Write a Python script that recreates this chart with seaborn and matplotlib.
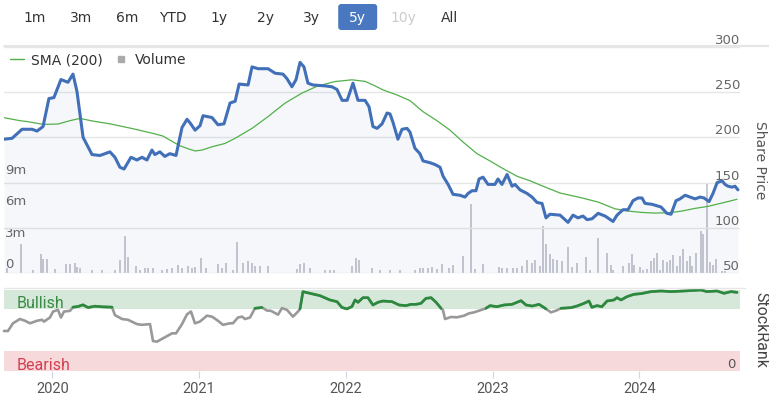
import numpy as np
import matplotlib
matplotlib.use("Agg")
import matplotlib.pyplot as plt
from matplotlib.lines import Line2D
from matplotlib.patches import FancyBboxPatch
import seaborn as sns

# range selector buttons
range_buttons = ["1m", "3m", "6m", "YTD", "1y", "2y", "3y", "5y", "10y", "All"]
active_button = "5y"
disabled_button = "10y"

# share price (decimal year, price)
price_t = [2019.671, 2019.726, 2019.794, 2019.862, 2019.896, 2019.937, 2019.977, 2020.011, 2020.059, 2020.107,
           2020.141, 2020.168, 2020.210, 2020.271, 2020.325, 2020.393, 2020.427, 2020.461, 2020.489, 2020.536,
           2020.577, 2020.611, 2020.645, 2020.679, 2020.699, 2020.733, 2020.767, 2020.801, 2020.843, 2020.884,
           2020.918, 2020.939, 2020.973, 2021.007, 2021.027, 2021.088, 2021.129, 2021.170, 2021.211, 2021.246,
           2021.273, 2021.334, 2021.361, 2021.402, 2021.470, 2021.518, 2021.572, 2021.599, 2021.633, 2021.661,
           2021.688, 2021.715, 2021.742, 2021.776, 2021.858, 2021.906, 2021.940, 2021.975, 2022.009, 2022.049,
           2022.083, 2022.131, 2022.158, 2022.185, 2022.213, 2022.247, 2022.281, 2022.301, 2022.321, 2022.355,
           2022.383, 2022.417, 2022.437, 2022.471, 2022.505, 2022.526, 2022.574, 2022.608, 2022.642, 2022.663,
           2022.697, 2022.731, 2022.778, 2022.812, 2022.833, 2022.860, 2022.887, 2022.908, 2022.935, 2022.969,
           2023.016, 2023.037, 2023.064, 2023.099, 2023.133, 2023.153, 2023.187, 2023.235, 2023.269, 2023.303,
           2023.337, 2023.364, 2023.391, 2023.460, 2023.514, 2023.548, 2023.582, 2023.616, 2023.644, 2023.678,
           2023.719, 2023.767, 2023.821, 2023.848, 2023.889, 2023.923, 2023.957, 2023.991, 2024.018, 2024.039,
           2024.086, 2024.148, 2024.188, 2024.216, 2024.250, 2024.277, 2024.312, 2024.346, 2024.380, 2024.414,
           2024.441, 2024.475, 2024.502, 2024.530, 2024.564, 2024.584, 2024.604, 2024.632, 2024.652, 2024.672]
price = [198, 199, 209, 209, 207, 212, 243, 244, 264, 261,
         270, 251, 200, 181, 180, 184, 178, 167, 165, 178,
         175, 178, 175, 186, 181, 184, 179, 182, 180, 211,
         220, 216, 208, 213, 224, 222, 214, 215, 238, 240,
         259, 258, 278, 276, 276, 271, 270, 265, 256, 264,
         283, 278, 260, 258, 257, 256, 253, 241, 241, 260,
         241, 241, 234, 212, 210, 215, 227, 226, 217, 198,
         209, 210, 206, 188, 182, 174, 172, 170, 167, 157,
         148, 137, 136, 134, 138, 141, 141, 154, 156, 148,
         148, 154, 148, 159, 146, 148, 142, 138, 134, 128,
         127, 111, 115, 114, 106, 114, 111, 113, 109, 110,
         116, 113, 107, 114, 120, 120, 130, 133, 133, 127,
         126, 123, 116, 115, 130, 132, 136, 134, 132, 134,
         133, 129, 138, 150, 152, 148, 146, 145, 146, 142]

# 200 day moving average
sma_t = [2019.664, 2019.780, 2019.834, 2019.937, 2020.039, 2020.120, 2020.189, 2020.278, 2020.393, 2020.550,
         2020.686, 2020.754, 2020.823, 2020.870, 2020.939, 2020.973, 2021.020, 2021.088, 2021.176, 2021.246,
         2021.361, 2021.470, 2021.585, 2021.701, 2021.810, 2021.927, 2022.042, 2022.131, 2022.199, 2022.253,
         2022.348, 2022.437, 2022.526, 2022.621, 2022.710, 2022.798, 2022.894, 2022.982, 2023.071, 2023.167,
         2023.255, 2023.344, 2023.459, 2023.610, 2023.719, 2023.834, 2023.923, 2024.018, 2024.106, 2024.208,
         2024.290, 2024.380, 2024.467, 2024.563, 2024.665]
sma = [222, 218.5, 217.4, 214.4, 214.8, 218.5, 221, 218, 215, 209.6,
       204.4, 201.5, 195, 190.7, 186.7, 185, 186, 189.6, 193.3, 199,
       210, 223, 237.8, 249, 257, 261.8, 263.7, 262, 257, 252.6,
       247, 240.7, 228.5, 218.5, 208, 195, 182, 174, 165.5, 157,
       152, 146, 138.5, 133, 128.5, 121, 118.5, 117, 116.3, 116.7,
       118.5, 121.5, 123.7, 127.4, 131.5]

# volume in millions
vol_t = [2019.691, 2019.787, 2019.868, 2019.923, 2019.937, 2019.964, 2020.018, 2020.093, 2020.121, 2020.155,
         2020.168, 2020.189, 2020.271, 2020.339, 2020.427, 2020.461, 2020.495, 2020.516, 2020.570, 2020.598,
         2020.632, 2020.652, 2020.686, 2020.748, 2020.782, 2020.816, 2020.857, 2020.884, 2020.925, 2020.952,
         2020.972, 2021.013, 2021.047, 2021.129, 2021.156, 2021.184, 2021.231, 2021.258, 2021.299, 2021.334,
         2021.361, 2021.381, 2021.415, 2021.470, 2021.668, 2021.688, 2021.715, 2021.756, 2021.858, 2021.892,
         2021.920, 2022.042, 2022.069, 2022.090, 2022.178, 2022.233, 2022.301, 2022.369, 2022.471, 2022.505,
         2022.526, 2022.560, 2022.587, 2022.621, 2022.655, 2022.703, 2022.730, 2022.798, 2022.853, 2022.880,
         2022.935, 2023.044, 2023.064, 2023.099, 2023.140, 2023.167, 2023.201, 2023.235, 2023.269, 2023.289,
         2023.323, 2023.344, 2023.364, 2023.391, 2023.412, 2023.439, 2023.473, 2023.514, 2023.541, 2023.575,
         2023.637, 2023.664, 2023.719, 2023.780, 2023.807, 2023.821, 2023.889, 2023.930, 2023.950, 2023.964,
         2024.005, 2024.025, 2024.052, 2024.080, 2024.100, 2024.120, 2024.141, 2024.161, 2024.188, 2024.209,
         2024.229, 2024.256, 2024.277, 2024.297, 2024.324, 2024.345, 2024.359, 2024.386, 2024.420, 2024.433,
         2024.460, 2024.481, 2024.502, 2024.522, 2024.563, 2024.584]
vol_m = [0.48, 2.8, 0.3, 1.85, 1.37, 1.37, 0.38, 0.9, 0.9, 0.95,
         0.57, 0.48, 0.32, 0.32, 0.32, 1.2, 3.5, 1.5, 0.7, 0.3,
         0.48, 0.48, 0.48, 0.3, 0.38, 0.48, 0.8, 0.48, 0.63, 0.48,
         0.57, 1.43, 0.48, 0.9, 0.48, 1.0, 0.3, 3.0, 0.95, 1.1,
         0.95, 0.7, 0.63, 0.63, 0.38, 0.9, 0.95, 0.48, 0.3, 0.3,
         0.3, 0.63, 1.43, 1.27, 0.48, 0.3, 0.3, 0.25, 0.3, 0.48,
         0.48, 0.48, 0.57, 0.38, 0.9, 0.48, 0.8, 1.6, 6.6, 0.38,
         0.9, 0.57, 0.48, 0.48, 0.48, 0.48, 0.63, 1.27, 0.95, 1.2,
         0.63, 4.44, 2.8, 1.84, 1.33, 1.2, 1.1, 2.44, 0.54, 0.95,
         1.52, 0.3, 3.33, 1.9, 0.8, 0.3, 0.63, 0.95, 1.8, 0.8,
         0.54, 0.3, 0.4, 1.17, 1.43, 1.9, 0.3, 1.27, 1.05, 1.27,
         1.75, 0.63, 1.6, 2.3, 1.17, 1.6, 0.63, 1.9, 4.0, 3.7,
         8.6, 1.05, 0.73, 1.37, 0.16, 0.16]

# StockRank history
rank_t = [2019.671, 2019.698, 2019.732, 2019.780, 2019.814, 2019.848, 2019.896, 2019.930, 2019.943, 2019.984,
          2020.005, 2020.039, 2020.059, 2020.080, 2020.121, 2020.141, 2020.175, 2020.209, 2020.243, 2020.291,
          2020.345, 2020.407, 2020.427, 2020.475, 2020.516, 2020.577, 2020.611, 2020.666, 2020.686, 2020.713,
          2020.754, 2020.816, 2020.843, 2020.884, 2020.918, 2020.945, 2020.972, 2021.006, 2021.054, 2021.088,
          2021.129, 2021.163, 2021.211, 2021.231, 2021.265, 2021.293, 2021.313, 2021.347, 2021.381, 2021.429,
          2021.463, 2021.490, 2021.518, 2021.538, 2021.565, 2021.599, 2021.640, 2021.674, 2021.688, 2021.708,
          2021.756, 2021.824, 2021.892, 2021.940, 2021.974, 2022.008, 2022.042, 2022.063, 2022.083, 2022.117,
          2022.151, 2022.185, 2022.219, 2022.253, 2022.315, 2022.363, 2022.410, 2022.444, 2022.478, 2022.512,
          2022.546, 2022.581, 2022.615, 2022.649, 2022.662, 2022.676, 2022.717, 2022.758, 2022.806, 2022.840,
          2022.874, 2022.921, 2022.955, 2022.983, 2023.030, 2023.078, 2023.132, 2023.194, 2023.228, 2023.269,
          2023.317, 2023.364, 2023.398, 2023.432, 2023.466, 2023.535, 2023.575, 2023.623, 2023.657, 2023.677,
          2023.711, 2023.745, 2023.780, 2023.827, 2023.848, 2023.875, 2023.916, 2023.964, 2024.012, 2024.080,
          2024.148, 2024.216, 2024.304, 2024.420, 2024.461, 2024.529, 2024.577, 2024.625, 2024.666]
rank = [49.4, 49.4, 58.9, 64.2, 62, 58.9, 62, 63.2, 61, 66,
        73.4, 75.5, 66, 73.4, 74.3, 78.8, 79.6, 81.7, 78.4, 80,
        79.2, 78.8, 69, 64.2, 63.2, 57.9, 57, 57.9, 37, 36.2,
        40.3, 46.5, 46.5, 57.9, 70, 73.4, 58.9, 61, 68.3, 67.1,
        62, 57, 58.9, 58.9, 66, 67.1, 64.2, 66, 77.4, 78.4,
        74.6, 74.3, 71.5, 69.5, 77.7, 75.5, 67.1, 73.4, 76.7, 97.9,
        95.9, 93, 87.7, 85.6, 78.4, 76.7, 79.6, 87.7, 84.8, 90.5,
        90.5, 81.5, 84.8, 86.4, 85.6, 81.5, 80.7, 82.3, 82.3, 83.5,
        89.7, 90.5, 84.8, 77.4, 75.3, 64.2, 66.7, 66.3, 68.3, 71.2,
        72.4, 75.3, 77.4, 80.7, 79.4, 81.5, 82.3, 86.8, 81.5, 80.2,
        82.3, 76.7, 72.4, 74.5, 77.4, 78.2, 80.2, 83.5, 86.4, 78.6,
        80.7, 79.4, 86.4, 87.7, 90.5, 87.7, 91.8, 94.7, 95.5, 98,
        98.8, 98, 98.8, 100, 98, 98.8, 95.9, 98, 97.1]

years = [2020, 2021, 2022, 2023, 2024]
price_ticks = [50, 100, 150, 200, 250, 300]
vol_ticks = [0, 3, 6, 9]
bull_threshold = 76

sns.set_theme(style="white")
plt.rcParams["font.family"] = ["DejaVu Sans"]

W, H = 769, 395
fig = plt.figure(figsize=(W / 100, H / 100), dpi=100)


def fx(px):
    return px / W


def fy(py):
    return 1 - py / H


x0, x1 = 4, 740
xlim = (2019.671, 2024.686)

# price / volume panel
ax_vol = fig.add_axes([fx(x0), fy(273), (x1 - x0) / W, (273 - 47) / H])
ax = ax_vol.twinx()
ax_vol.bar(vol_t, vol_m, width=0.013, color="#c8c9d2", linewidth=0)
ax_vol.set_ylim(0, 21.55)

ax.fill_between(price_t, price, 50, color="#4572a7", alpha=0.05, linewidth=0)
sns.lineplot(x=sma_t, y=sma, ax=ax, color="#52b04a", linewidth=0.9)
sns.lineplot(x=price_t, y=price, ax=ax, color="#4170b9", linewidth=2.2)
ax.set_ylim(50, 300)
ax.set_yticks(price_ticks)
ax.grid(axis="y", color="#e6e6e6", linewidth=1)
ax.set_axisbelow(True)

for a in (ax, ax_vol):
    a.set_xlim(*xlim)
    a.set_xlabel("")
    a.set_ylabel("")
    a.tick_params(left=False, right=False, bottom=False, labelleft=False,
                  labelright=False, labelbottom=False)
    for s in a.spines.values():
        s.set_visible(False)

for v in price_ticks:
    ax.annotate(str(v), xy=(1, v), xycoords=ax.get_yaxis_transform(),
                xytext=(0, 2.2), textcoords="offset points", ha="right",
                va="baseline", fontsize=9.5, color="#666666")
for v in vol_ticks:
    ax_vol.annotate(f"{v}m" if v else "0", xy=(0, v), xycoords=ax_vol.get_yaxis_transform(),
                    xytext=(1, 3.6), textcoords="offset points", ha="left",
                    va="baseline", fontsize=9.5, color="#666666")

fig.text(fx(760), fy(160), "Share Price", rotation=270, ha="center", va="center",
         fontsize=10, color="#555555")

handles = [Line2D([], [], color="#52b04a", linewidth=1),
           Line2D([], [], marker="s", linestyle="none", color="#aaaaaa", markersize=5)]
ax.legend(handles, ["SMA (200)", "Volume"], loc="upper left",
          bbox_to_anchor=(fx(10), fy(53)), bbox_transform=fig.transFigure,
          ncol=2, frameon=False, fontsize=10, handlelength=1.0, handletextpad=0.5,
          columnspacing=0.8, borderpad=0, borderaxespad=0, labelcolor="#333333")

# StockRank panel
ax_rank = fig.add_axes([fx(x0), fy(371), (x1 - x0) / W, (371 - 290) / H])
ax_rank.axhspan(bull_threshold, 100, color="#d5e8da", linewidth=0)
ax_rank.axhspan(0, 25, color="#f6d9db", linewidth=0)
rank_arr = np.array(rank)
ax_rank.plot(rank_t, rank_arr, color="#999999", linewidth=1.9, clip_on=False)
ax_rank.plot(rank_t, np.ma.masked_where(rank_arr < bull_threshold, rank_arr),
             color="#2a8a3c", linewidth=1.9, clip_on=False)
ax_rank.set_xlim(*xlim)
ax_rank.set_ylim(0, 100)
ax_rank.set_yticks([])
ax_rank.set_xticks(years)
ax_rank.set_xticklabels([str(y) for y in years], fontfamily="Roboto", fontsize=10.5, color="#555555")
ax_rank.tick_params(axis="x", bottom=True, length=5, width=0.8, color="#ccd6eb", pad=3)
for s in ax_rank.spines.values():
    s.set_visible(False)

tr = ax_rank.get_yaxis_transform()
ax_rank.annotate("Bullish", xy=(0, bull_threshold), xycoords=tr, xytext=(9.4, 0.8),
                 textcoords="offset points", va="baseline", fontfamily="Roboto",
                 fontsize=11.5, color="#3a8a45")
ax_rank.annotate("Bearish", xy=(0, 0), xycoords=tr, xytext=(9.4, 0.8),
                 textcoords="offset points", va="baseline", fontfamily="Roboto",
                 fontsize=11.5, color="#d2404f")
ax_rank.annotate("0", xy=(1, 0), xycoords=tr, xytext=(-2.9, 2.4),
                 textcoords="offset points", ha="right", va="baseline",
                 fontsize=9.5, color="#555555")
fig.text(fx(761), fy(330), "StockRank", rotation=270, ha="center", va="center",
         fontfamily="Roboto", fontsize=11.5, color="#444444")

# separators
fig.add_artist(Line2D([fx(4), 1], [fy(46), fy(46)], color="#e6e6e6", linewidth=1.5))
fig.add_artist(Line2D([fx(4), fx(745)], [fy(288), fy(288)], color="#e6e6e6", linewidth=1))

# range selector
for i, lab in enumerate(range_buttons):
    cx = 35 + 46.1 * i
    color = "#333333"
    if lab == active_button:
        box = FancyBboxPatch((fx(cx - 19.5), fy(30)), fx(39), 26 / H,
                             boxstyle=f"round,pad=0,rounding_size={3 / W}",
                             mutation_aspect=W / H, transform=fig.transFigure,
                             facecolor="#4a78c0", edgecolor="none")
        fig.add_artist(box)
        color = "white"
    elif lab == disabled_button:
        color = "#cccccc"
    fig.text(fx(cx), fy(21.7), lab, ha="center", va="baseline", fontsize=10, color=color)

fig.savefig("out.png", dpi=100)
